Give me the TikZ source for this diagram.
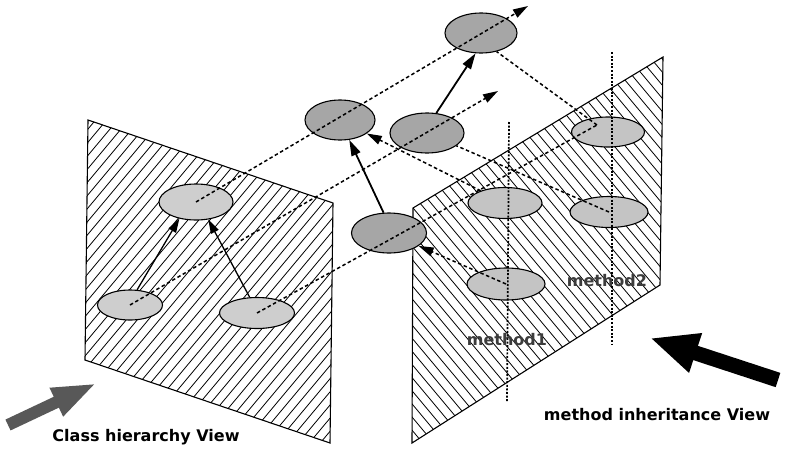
\documentclass[tikz,border=0pt]{standalone}
\usepackage{fontspec}
\newfontfamily\viewfont{DejaVu Sans}
\usepackage{tikz}
\usetikzlibrary{shapes.geometric,arrows.meta,calc}
\definecolor{lg}{RGB}{206,206,206}
\definecolor{mg}{RGB}{196,196,196}
\definecolor{dg}{RGB}{166,166,166}
\definecolor{ag}{RGB}{88,88,88}
\definecolor{tg}{RGB}{60,60,60}

\begin{document}
\begin{tikzpicture}[x=1pt, y=-1pt,
  plane/.style={draw=black, line width=1.1pt},
  hatch/.style={line width=0.8pt},
  cell/.style={ellipse, draw=black, line width=1.1pt, inner sep=0pt},
  lite/.style={cell, fill=lg},
  mlite/.style={cell, fill=mg},
  dark/.style={cell, fill=dg},
  proj/.style={dash pattern=on 3.5pt off 2.6pt, line width=1.5pt},
  tip/.style={-{Triangle[length=15pt,width=9pt]}},
  link/.style={-{Triangle[length=16pt,width=9.5pt]}, line width=1.8pt},
  thinlink/.style={-{Triangle[length=14pt,width=8.5pt]}, line width=1.3pt},
  guide/.style={dash pattern=on 2pt off 1.6pt, line width=1.7pt},
  lbl/.style={font=\viewfont\bfseries\fontsize{16}{18}\selectfont, inner sep=0pt, anchor=base}
]
\useasboundingbox (0,0) rectangle (795,450);
\fill[white] (0,0) rectangle (795,450);
% class hierarchy plane
\begin{scope}
  \clip (88,120) -- (333,203) -- (330,443) -- (85,360) -- cycle;
  \foreach \x in {-200,-189,...,330} \draw[hatch] (\x,460) -- (\x+385,0);
\end{scope}
\draw[plane] (88,120) -- (333,203) -- (330,443) -- (85,360) -- cycle;
% method inheritance plane
\begin{scope}
  \clip (413,208) -- (663,57) -- (660,285) -- (412,443) -- cycle;
  \foreach \x in {30,41,...,630} \draw[hatch] (\x,0) -- (\x+385,460);
\end{scope}
\draw[plane] (413,208) -- (663,57) -- (660,285) -- (412,443) -- cycle;

% classes
\node[lite, minimum width=74pt, minimum height=36pt] (cA) at (196,202) {};
\node[lite, minimum width=65pt, minimum height=30pt] (cB) at (130,305) {};
\node[lite, minimum width=75pt, minimum height=31pt] (cC) at (257,313) {};
% objects
\node[dark, minimum width=75pt, minimum height=40pt] (oA) at (389,233) {};
\node[dark, minimum width=70pt, minimum height=40pt] (oB) at (340,120) {};
\node[dark, minimum width=74pt, minimum height=40pt] (oC) at (427,133) {};
\node[dark, minimum width=72pt, minimum height=40pt] (oD) at (481,33) {};
% methods
\node[mlite, minimum width=73pt, minimum height=30pt] (mA) at (608,132) {};
\node[mlite, minimum width=74pt, minimum height=31pt] (mB) at (505,203) {};
\node[mlite, minimum width=78pt, minimum height=31pt] (mC) at (609,212) {};
\node[mlite, minimum width=78pt, minimum height=32pt] (mD) at (506,284) {};

% method guides
\coordinate (g1top) at (509,122);
\coordinate (g1bot) at (507,402);
\coordinate (g2top) at (612,52);
\coordinate (g2bot) at (612,345);
\draw[guide] (g1top) -- (g1bot);
\draw[guide] (g2top) -- (g2bot);

% depth lines
\coordinate (endA) at (528,6);
\coordinate (endB) at (498,91);
\coordinate (mAin) at (597,125);
\draw[proj, tip] (cA.center) -- (endA);
\draw[proj, tip] (cB.center) -- (endB);
\draw[proj] (cC.center) -- (mAin);
% projections onto the method plane
\draw[proj] (mAin) -- (oD.310);
\draw[proj] (mC.center) -- (oC);
\draw[proj, tip] (mB) -- (oB);
\draw[proj, tip] (mD.center) -- (oA);

% inheritance
\draw[thinlink] (cB.65) -- (cA.225);
\draw[thinlink] (cC.115) -- (cA.305);
\draw[link] (oA.105) -- (oB.295);
\draw[link] (oC.65) -- (oD.255);

% labels
\node[lbl, text=tg] (m1lbl) at (507,345) {method1};
\node[lbl, text=tg] (m2lbl) at (607,286) {method2};
\node[lbl] (chv) at (146,441) {Class hierarchy View};
\node[lbl] (miv) at (657,420) {method inheritance View};

% view arrows
\coordinate (chvTail) at (8,425);
\coordinate (chvTip) at (97,383);
\coordinate (mivTail) at (778,380);
\coordinate (mivTip) at (650,338);
\draw[ag, line width=12pt, -{Triangle[length=45pt,width=28pt]}] (chvTail) -- (chvTip);
\draw[black, line width=15pt, -{Triangle[length=48pt,width=38pt]}] (mivTail) -- (mivTip);
\end{tikzpicture}
\end{document}
